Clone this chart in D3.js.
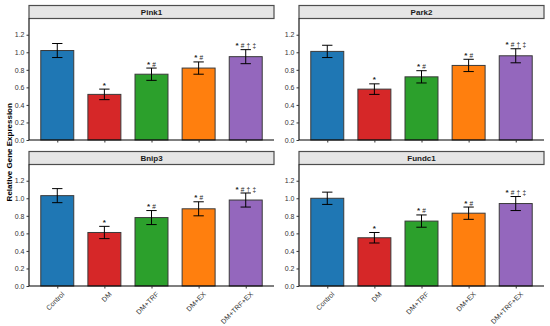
<!DOCTYPE html>
<html>
<head>
<meta charset="utf-8">
<script src="https://cdn.jsdelivr.net/npm/d3@7"></script>
<style>
  body { margin: 0; background: #fff; }
  text { font-family: "Liberation Sans", Arial, sans-serif; }
</style>
</head>
<body>
<div id="chart"></div>
<script>
// Data
var groups = ["Control", "DM", "DM+TRF", "DM+EX", "DM+TRF+EX"];
var genes = ["Pink1", "Park2", "Bnip3", "Fundc1"];
var pink1Mean = [1.02, 0.52, 0.75, 0.82, 0.95];
var pink1Err = [0.08, 0.06, 0.07, 0.07, 0.08];
var park2Mean = [1.01, 0.58, 0.72, 0.85, 0.96];
var park2Err = [0.07, 0.06, 0.07, 0.07, 0.08];
var bnip3Mean = [1.03, 0.61, 0.78, 0.88, 0.98];
var bnip3Err = [0.08, 0.07, 0.08, 0.08, 0.08];
var fundc1Mean = [1.00, 0.55, 0.74, 0.83, 0.94];
var fundc1Err = [0.07, 0.06, 0.07, 0.07, 0.08];
var sigLabels = ["", "*", "* #", "* #", "* # \u2020 \u2021"];
var barColors = ["#1f77b4", "#d62728", "#2ca02c", "#ff7f0e", "#9467bd"];
var yTicks = [0, 0.2, 0.4, 0.6, 0.8, 1.0, 1.2];

var means = [pink1Mean, park2Mean, bnip3Mean, fundc1Mean];
var errs = [pink1Err, park2Err, bnip3Err, fundc1Err];

var svgWidth = 550;
var svgHeight = 326;

var svg = d3.select("#chart")
    .append("svg")
    .attr("width", svgWidth)
    .attr("height", svgHeight);

// panel geometry
var panelW = 245;
var panelH = 121.5;
var stripH = 13;
var colX = [29, 299];
var rowY = [18.5, 164.5];

var xScale = d3.scalePoint()
    .domain(groups)
    .range([0, panelW])
    .padding(0.6);
var step = xScale.step();
var barW = step * 0.7;
var capW = step * 0.22;

var yScale = d3.scaleLinear()
    .domain([0, 1.385])
    .range([panelH, 0]);

genes.forEach(function(gene, gi) {
    var col = gi % 2, row = Math.floor(gi / 2);
    var g = svg.append("g")
        .attr("transform", `translate(${colX[col]}, ${rowY[row]})`);

    var rows = groups.map(function(grp, i) {
        return { group: grp, mean: means[gi][i], err: errs[gi][i], sig: sigLabels[i], color: barColors[i] };
    });

    // strip
    g.append("rect")
        .attr("x", 0)
        .attr("y", -stripH)
        .attr("width", panelW)
        .attr("height", stripH)
        .attr("fill", "#e5e5e5")
        .attr("stroke", "#4d4d4d")
        .attr("stroke-width", 1.2);
    g.append("text")
        .attr("x", panelW / 2)
        .attr("y", -stripH / 2)
        .attr("dy", "0.35em")
        .attr("text-anchor", "middle")
        .style("font-size", "8px")
        .style("font-weight", "bold")
        .attr("fill", "#1a1a1a")
        .text(gene);

    // bars
    g.selectAll(".bar")
        .data(rows)
        .enter()
        .append("rect")
        .attr("x", d => xScale(d.group) - barW / 2)
        .attr("y", d => yScale(d.mean))
        .attr("width", barW)
        .attr("height", d => yScale(0) - yScale(d.mean))
        .attr("fill", d => d.color)
        .attr("stroke", "#3a3a3a")
        .attr("stroke-width", 1);

    // error bars
    var eb = g.selectAll(".err")
        .data(rows)
        .enter()
        .append("g")
        .attr("stroke", "#000")
        .attr("stroke-width", 1);
    eb.append("line")
        .attr("x1", d => xScale(d.group))
        .attr("x2", d => xScale(d.group))
        .attr("y1", d => yScale(d.mean - d.err))
        .attr("y2", d => yScale(d.mean + d.err));
    eb.append("line")
        .attr("x1", d => xScale(d.group) - capW / 2)
        .attr("x2", d => xScale(d.group) + capW / 2)
        .attr("y1", d => yScale(d.mean + d.err))
        .attr("y2", d => yScale(d.mean + d.err));
    eb.append("line")
        .attr("x1", d => xScale(d.group) - capW / 2)
        .attr("x2", d => xScale(d.group) + capW / 2)
        .attr("y1", d => yScale(d.mean - d.err))
        .attr("y2", d => yScale(d.mean - d.err));

    // significance marks: bold star, lighter symbols after it
    var sig = g.selectAll(".sig")
        .data(rows)
        .enter()
        .append("text")
        .attr("x", d => xScale(d.group))
        .attr("y", d => yScale(d.mean + d.err) - 1.5)
        .attr("text-anchor", "middle")
        .style("font-size", "7px")
        .attr("fill", "#222");
    sig.each(function(d) {
        var parts = d.sig.split(" ").filter(s => s.length);
        var t = d3.select(this);
        parts.forEach(function(p, k) {
            t.append("tspan")
                .attr("dx", k > 0 ? 2.2 : 0)
                .style("font-weight", p === "*" ? "bold" : "normal")
                .style("font-size", p === "*" ? "8px" : "6.5px")
                .text(p);
        });
    });

    // axes
    var leftAxis = d3.axisLeft(yScale)
        .tickValues(yTicks)
        .tickFormat(d3.format(".1f"))
        .tickSize(2.5)
        .tickPadding(2);
    var ay = g.append("g").call(leftAxis);
    ay.select(".domain").attr("stroke", "#000").attr("stroke-width", 1.1)
        .attr("d", `M0,0V${panelH}`);
    ay.selectAll(".tick line").attr("stroke", "#333");
    ay.selectAll(".tick text")
        .attr("fill", "#333")
        .style("font-size", "7px")
        .style("font-family", "'Liberation Sans', Arial, sans-serif");

    var bottomAxis = d3.axisBottom(xScale)
        .tickSize(2.5)
        .tickFormat(row === 1 ? (d => d) : (() => ""));
    var ax = g.append("g")
        .attr("transform", `translate(0, ${panelH})`)
        .call(bottomAxis);
    ax.select(".domain").attr("stroke", "#000").attr("stroke-width", 1.1)
        .attr("d", `M0,0H${panelW}`);
    ax.selectAll(".tick line").attr("stroke", "#333");
    ax.selectAll(".tick text")
        .attr("fill", "#333")
        .style("font-size", "7px")
        .style("font-family", "'Liberation Sans', Arial, sans-serif")
        .attr("text-anchor", "end")
        .attr("y", 0)
        .attr("dy", "0.75em")
        .attr("transform", "translate(3.5, 5) rotate(-45)");
});

// y axis title
svg.append("text")
    .attr("transform", `translate(9, ${(rowY[0] + rowY[1] + panelH) / 2}) rotate(-90)`)
    .attr("text-anchor", "middle")
    .attr("dy", "0.35em")
    .style("font-size", "8px")
    .style("font-weight", "bold")
    .attr("fill", "#000")
    .text("Relative Gene Expression");
</script>
</body>
</html>
